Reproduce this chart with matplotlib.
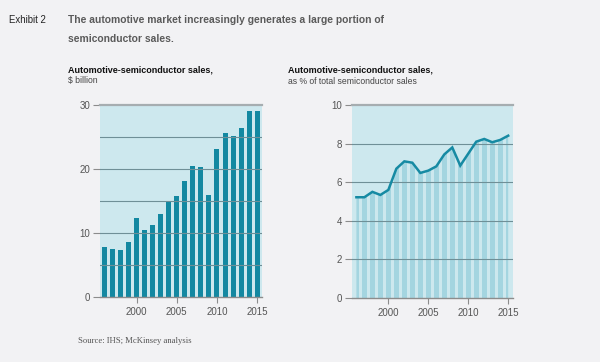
import numpy as np
import matplotlib
matplotlib.use("Agg")
import matplotlib.pyplot as plt

plt.rcParams['font.family'] = ['Liberation Sans', 'DejaVu Sans']

# data
years = list(range(1996, 2016))
sales_bn = [7.8, 7.55, 7.3, 8.6, 12.3, 10.5, 11.3, 13.0, 14.9, 15.75,
            18.1, 20.4, 20.3, 15.9, 23.2, 25.6, 25.2, 26.4, 29.0, 29.1]
share_pct = [5.22, 5.22, 5.5, 5.34, 5.6, 6.7, 7.08, 7.01, 6.48, 6.6,
             6.82, 7.44, 7.8, 6.86, 7.48, 8.1, 8.24, 8.07, 8.19, 8.41]
left_yticks = [0, 10, 20, 30]
right_yticks = [0, 2, 4, 6, 8, 10]
xticks = [2000, 2005, 2010, 2015]

fig_bg = '#f2f2f4'
ax_bg = '#cde8ee'
bar_col = '#1388a1'
stripe_col = '#a4d5e0'
grid_col = '#6f8f97'
text_col = '#555555'

fig = plt.figure(figsize=(6, 3.62), dpi=100, facecolor=fig_bg)


def style_axes(ax, ymax, grid_vals, ticks):
    ax.set_facecolor(ax_bg)
    ax.set_xlim(1995.45, 2015.6)
    ax.set_ylim(0, ymax)
    for v in grid_vals:
        if 0 < v < ymax:
            ax.axhline(v, color=grid_col, lw=0.8, zorder=2)
    for s in ['left', 'right']:
        ax.spines[s].set_visible(False)
    ax.spines['top'].set_color('#a6adb0')
    ax.spines['top'].set_linewidth(1.6)
    ax.spines['bottom'].set_color('#8c8c8c')
    ax.spines['bottom'].set_linewidth(1.0)
    ax.spines['bottom'].set_zorder(4)
    ax.set_yticks(ticks)
    ax.set_xticks(xticks)
    ax.tick_params(axis='y', length=5, width=0.8, color='#8c8c8c',
                   labelsize=7, labelcolor=text_col, pad=2)
    ax.tick_params(axis='x', length=4, width=0.8, color='#8c8c8c',
                   labelsize=7, labelcolor=text_col, pad=3)


# left: $ billion bars
ax1 = fig.add_axes([100 / 600, 65 / 362, 162 / 600, 192 / 362])
ax1.bar(years, sales_bn, width=0.62, color=bar_col, zorder=1)
style_axes(ax1, 30, range(0, 31, 5), left_yticks)

# right: share of total, striped area under the line
ax2 = fig.add_axes([352 / 600, 64 / 362, 161 / 600, 193 / 362])
area = ax2.fill_between(years, share_pct, 0, color='none', lw=0)
clip = area.get_paths()[0]
stripes = ax2.bar(years, [10] * len(years), width=0.62, color=stripe_col, zorder=1)
for b in stripes:
    b.set_clip_path(clip, ax2.transData)
ax2.plot(years, share_pct, color='#168aa3', lw=1.8, zorder=3,
         solid_joinstyle='miter')
style_axes(ax2, 10, right_yticks, right_yticks)

# titles and notes
fig.text(9 / 600, 1 - 20 / 362, 'Exhibit 2', fontsize=6.9, color='#222222',
         va='center', ha='left')
fig.text(68 / 600, 1 - 20 / 362,
         'The automotive market increasingly generates a large portion of',
         fontsize=7.35, fontweight='bold', color='#5a5a5a', va='center')
fig.text(68 / 600, 1 - 39 / 362, 'semiconductor sales.',
         fontsize=7.35, fontweight='bold', color='#5a5a5a', va='center')

fig.text(68 / 600, 1 - 70 / 362, 'Automotive-semiconductor sales,',
         fontsize=6.45, fontweight='bold', color='#111111', va='center')
fig.text(68 / 600, 1 - 81 / 362, '$ billion',
         fontsize=6.2, color='#444444', va='center')
fig.text(288 / 600, 1 - 70 / 362, 'Automotive-semiconductor sales,',
         fontsize=6.45, fontweight='bold', color='#111111', va='center')
fig.text(288 / 600, 1 - 81 / 362, 'as % of total semiconductor sales',
         fontsize=6.2, color='#444444', va='center')

fig.text(78 / 600, 1 - 341 / 362, 'Source: IHS; McKinsey analysis',
         fontsize=6.2, family='Liberation Serif', color='#555555', va='center')

fig.savefig('out.png', dpi=100, facecolor=fig_bg)
